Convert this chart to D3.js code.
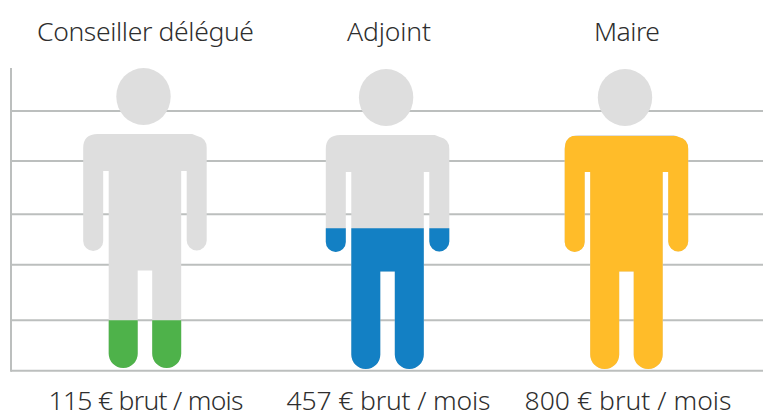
<!DOCTYPE html>
<html><head><meta charset="utf-8">
<script src="https://cdn.jsdelivr.net/npm/d3@7"></script>
<style>html,body{margin:0;padding:0;background:#fff}svg{display:block}text{font-family:"Noto Sans",sans-serif;font-weight:300;fill:#2e2e2e;font-size:26.5px}</style>
</head><body><div id="c"></div>
<script>
const categories = ["Conseiller délégué", "Adjoint", "Maire"];
const amounts = [115, 457, 800];
const amountLabels = ["115 € brut / mois", "457 € brut / mois", "800 € brut / mois"];
const fillColors = ["#4eb24a", "#1380c4", "#ffbc29"];
const gridLevels = [0, 0.1665, 0.35, 0.517, 0.693, 0.858];

const W = 763, H = 414;
const svg = d3.select("#c").append("svg").attr("width", W).attr("height", H);

const x = d3.scaleOrdinal().domain(categories).range([145.2, 387.8, 626.7]);
const dy = d3.scaleOrdinal().domain(categories).range([0, 1, 1]);
const level = d3.scaleLinear().domain([0, 1]).range([370.7, 68]);
const euro = d3.scaleLinear().domain([115, 457]).range([320.3, 228.3]);
const shoulderY = 134;

svg.selectAll("line.g").data(gridLevels).join("line").attr("class", "g")
  .attr("x1", 11).attr("x2", W).attr("y1", d => level(d)).attr("y2", d => level(d))
  .attr("stroke", "#bcbfbe").attr("stroke-width", 2);
svg.append("line").attr("x1", 11).attr("x2", 11).attr("y1", level(1)).attr("y2", level(0) + 1)
  .attr("stroke", "#bcbfbe").attr("stroke-width", 2);

const bodyPath = d3.path();
(function (p) {
  p.moveTo(-47.5, 0);
  p.lineTo(47, 0);
  p.lineTo(52, 2);
  p.quadraticCurveTo(61.5, 4, 61.5, 14);
  p.lineTo(61.5, 106.5);
  p.arc(51.5, 106.5, 10, 0, Math.PI);
  p.lineTo(41.5, 37);
  p.lineTo(36, 37);
  p.lineTo(36, 219.5);
  p.arc(21.5, 219.5, 14.5, 0, Math.PI);
  p.lineTo(7, 136.5);
  p.lineTo(-7.5, 136.5);
  p.lineTo(-7.5, 219.5);
  p.arc(-22, 219.5, 14.5, 0, Math.PI);
  p.lineTo(-36.5, 37);
  p.lineTo(-42, 37);
  p.lineTo(-42, 107);
  p.arc(-52, 107, 10, 0, Math.PI);
  p.lineTo(-62, 14);
  p.quadraticCurveTo(-62, 0, -47.5, 0);
  p.closePath();
})(bodyPath);
const bodyD = bodyPath.toString();

const fig = svg.selectAll("g.f").data(categories).join("g").attr("class", "f")
  .attr("transform", d => `translate(${x(d)},${dy(d)})`);

fig.append("ellipse").attr("cx", -1.7).attr("cy", 96.5).attr("rx", 27.2).attr("ry", 28.5).attr("fill", "#dedede");
fig.append("path").attr("d", bodyD).attr("transform", `translate(0,${shoulderY})`).attr("fill", "#dedede");

const defs = svg.append("defs");
categories.forEach((c, i) => {
  defs.append("clipPath").attr("id", "clip" + i).append("rect")
    .attr("x", -100).attr("width", 200)
    .attr("y", euro(amounts[i]) - dy(c)).attr("height", H);
});
fig.append("g").attr("clip-path", (d, i) => `url(#clip${i})`)
  .append("path").attr("d", bodyD).attr("transform", `translate(0,${shoulderY})`)
  .attr("fill", (d, i) => fillColors[i]);

svg.selectAll("text.t").data(categories).join("text").attr("class", "t")
  .attr("text-anchor", "middle").attr("x", (d, i) => [145.5, 389, 627][i]).attr("y", 41)
  .attr("textLength", (d, i) => [217, 84, 66][i]).text(d => d);
svg.selectAll("text.a").data(amountLabels).join("text").attr("class", "a")
  .attr("text-anchor", "middle").attr("x", (d, i) => [146, 388.5, 628][i]).attr("y", 409.5)
  .attr("textLength", (d, i) => [195, 204, 207][i]).text(d => d);
</script></body></html>
